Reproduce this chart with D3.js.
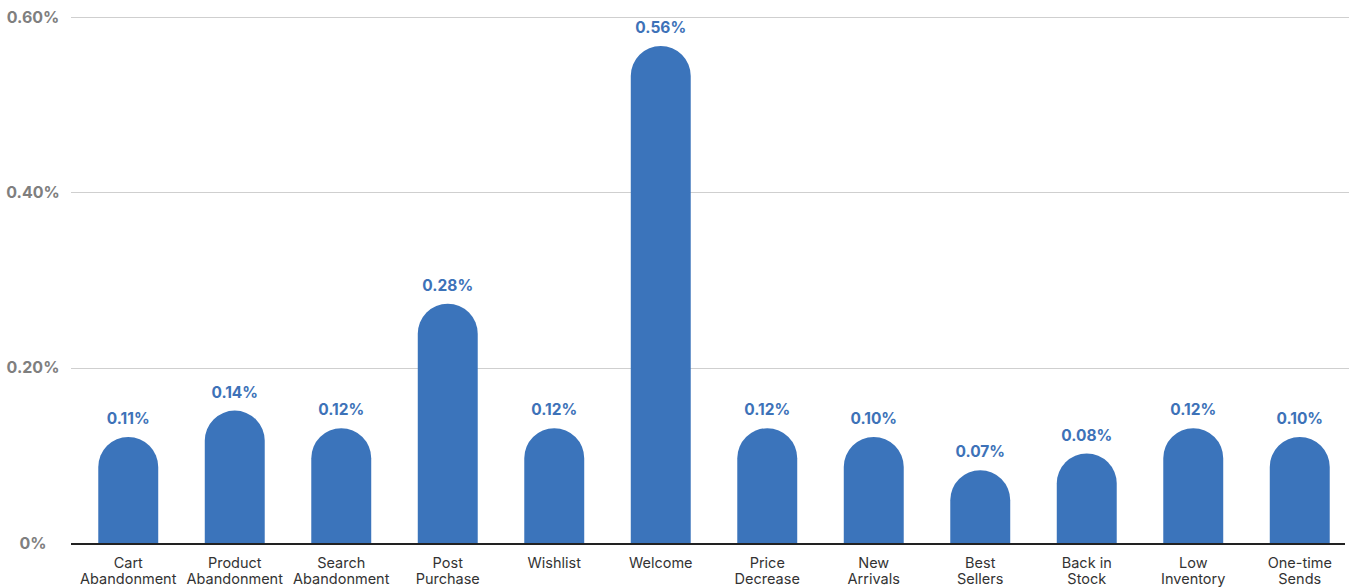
<!DOCTYPE html>
<html>
<head>
<meta charset="utf-8">
<script src="https://cdn.jsdelivr.net/npm/d3@7"></script>
<style>
  html, body { margin: 0; padding: 0; background: #fff; }
  svg { display: block; }
</style>
</head>
<body>
<svg id="chart" width="1349" height="588"></svg>
<script>
// ---- data ----
const categories = [
  ["Cart", "Abandonment"], ["Product", "Abandonment"], ["Search", "Abandonment"],
  ["Post", "Purchase"], ["Wishlist"], ["Welcome"], ["Price", "Decrease"],
  ["New", "Arrivals"], ["Best", "Sellers"], ["Back in", "Stock"],
  ["Low", "Inventory"], ["One-time", "Sends"]
];
// bar heights as drawn (percent)
const values = [0.121, 0.151, 0.131, 0.273, 0.131, 0.567, 0.131, 0.121, 0.083, 0.102, 0.131, 0.121];
// value labels as printed
const valueLabels = ["0.11%", "0.14%", "0.12%", "0.28%", "0.12%", "0.56%", "0.12%", "0.10%", "0.07%", "0.08%", "0.12%", "0.10%"];
const yTicks = [0, 0.2, 0.4, 0.6];
const yTickLabels = ["0%", "0.20%", "0.40%", "0.60%"];

// ---- layout ----
const svg = d3.select("#chart");
const font = "Inter, 'Noto Sans', sans-serif";
const x = d3.scaleBand().domain(d3.range(categories.length)).range([75, 1353]).paddingInner(0.437).paddingOuter(0.2185);
const y = d3.scaleLinear().domain([0, 0.6]).range([543, 17]);

// gridlines
svg.append("g").selectAll("line").data(yTicks.filter(d => d > 0)).join("line")
  .attr("x1", 71).attr("x2", 1349)
  .attr("y1", d => Math.round(y(d)) + 0.5).attr("y2", d => Math.round(y(d)) + 0.5)
  .attr("stroke", "#cfcfcf").attr("stroke-width", 1);

// y tick labels
svg.append("g").selectAll("text").data(yTicks).join("text")
  .attr("x", 33).attr("y", d => y(d))
  .attr("dy", "0.36em")
  .attr("text-anchor", "middle")
  .attr("font-family", font).attr("font-weight", 700).attr("font-size", 16)
  .attr("fill", "#7f7f7f")
  .text((d, i) => yTickLabels[i]);

// bars with rounded tops
const bw = x.bandwidth();
const r = bw / 2;
svg.append("g").selectAll("path").data(values).join("path")
  .attr("fill", "#3b74bb")
  .attr("d", (d, i) => {
    const x0 = x(i), y0 = y(0), y1 = y(d);
    return `M${x0},${y0}V${y1 + r}A${r},${r} 0 0 1 ${x0 + bw},${y1 + r}V${y0}Z`;
  });

// value labels
svg.append("g").selectAll("text").data(values).join("text")
  .attr("x", (d, i) => x(i) + bw / 2)
  .attr("y", d => y(d) - 13)
  .attr("text-anchor", "middle")
  .attr("font-family", font).attr("font-weight", 700).attr("font-size", 15.5)
  .attr("fill", "#3d72b8")
  .text((d, i) => valueLabels[i]);

// x axis line
svg.append("line")
  .attr("x1", 71).attr("x2", 1345).attr("y1", 544).attr("y2", 544)
  .attr("stroke", "#222").attr("stroke-width", 2);

// category labels
const cat = svg.append("g").selectAll("text").data(categories).join("text")
  .attr("x", (d, i) => x(i) + bw / 2)
  .attr("y", 568)
  .attr("text-anchor", "middle")
  .attr("font-family", font).attr("font-size", 14.5)
  .attr("fill", "#333");
cat.selectAll("tspan").data(d => d).join("tspan")
  .attr("x", function () { return d3.select(this.parentNode).attr("x"); })
  .attr("dy", (d, i) => i === 0 ? 0 : 16)
  .text(d => d);
</script>
</body>
</html>
